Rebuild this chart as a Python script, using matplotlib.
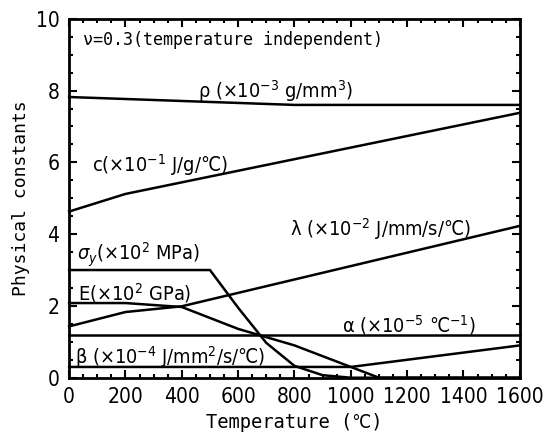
"""Temperature dependent physical constants."""

import matplotlib
matplotlib.use("Agg")
import matplotlib.pyplot as plt
from matplotlib.ticker import MultipleLocator

# =============================================================================
# Data
# =============================================================================
rho_t = [0, 800, 1600]
rho_v = [7.82, 7.6, 7.6]

c_t = [0, 200, 1600]
c_v = [4.63, 5.12, 7.38]

lam_t = [0, 200, 400, 1600]
lam_v = [1.43, 1.83, 1.99, 4.23]

sig_t = [0, 500, 600, 700, 800, 900, 1000, 1600]
sig_v = [3.0, 3.0, 1.95, 0.97, 0.33, 0.07, 0.0, 0.0]

e_t = [0, 200, 400, 600, 800, 1000, 1100, 1600]
e_v = [2.08, 2.08, 1.97, 1.36, 0.9, 0.3, 0.0, 0.0]

alpha_t = [0, 1600]
alpha_v = [1.18, 1.18]

beta_t = [0, 1000, 1600]
beta_v = [0.3, 0.3, 0.9]

# Fonts (condensed DejaVu stands in for the narrow Japanese font)
plt.rcParams["font.family"] = ["DejaVu Sans"]
plt.rcParams["font.stretch"] = "condensed"

MONO = ["DejaVu Sans Mono", "DejaVu Sans"]

fig = plt.figure(figsize=(5.53, 4.47), dpi=100)
ax = fig.add_axes([0.125, 0.155, 0.815, 0.803])

lw = 1.8
for t, v in [(rho_t, rho_v), (c_t, c_v), (lam_t, lam_v), (sig_t, sig_v),
             (e_t, e_v), (alpha_t, alpha_v), (beta_t, beta_v)]:
    ax.plot(t, v, color="black", lw=lw, solid_joinstyle="miter", clip_on=False)

ax.set_xlim(0, 1600)
ax.set_ylim(0, 10)
ax.xaxis.set_major_locator(MultipleLocator(200))
ax.xaxis.set_minor_locator(MultipleLocator(50))
ax.yaxis.set_major_locator(MultipleLocator(2))
ax.yaxis.set_minor_locator(MultipleLocator(0.5))
ax.tick_params(which="both", direction="in", top=True, right=True, width=1.5)
ax.tick_params(which="major", length=6, labelsize=15, pad=7)
ax.tick_params(which="minor", length=3)
for s in ax.spines.values():
    s.set_linewidth(2)

ax.set_xlabel("Temperature (℃)", family=MONO, fontsize=13.5, labelpad=4)
ax.set_ylabel("Physical constants", family=MONO, fontsize=13, labelpad=4)

# Annotations
fs = 14.3
ax.text(50, 9.42, "ν=0.3(temperature independent)", family=MONO,
        fontsize=12, va="center")
ax.text(457, 8.0, "ρ (×10$^{-3}$ g/mm$^{3}$)", fontsize=fs, va="center")
ax.text(82, 5.93, "c(×10$^{-1}$ J/g/℃)", fontsize=fs, va="center")
ax.text(783, 4.15, "λ (×10$^{-2}$ J/mm/s/℃)", fontsize=fs, va="center")
ax.text(28, 3.42, "$\\sigma_y$(×10$^{2}$ MPa)", fontsize=fs, va="center")
ax.text(30, 2.37, "E(×10$^{2}$ GPa)", fontsize=fs, va="center")
ax.text(968, 1.48, "α (×10$^{-5}$ ℃$^{-1}$)", fontsize=fs, va="center")
ax.text(21, 0.58, "β (×10$^{-4}$ J/mm$^{2}$/s/℃)", fontsize=fs, va="center")

fig.savefig("out.png", dpi=100)
